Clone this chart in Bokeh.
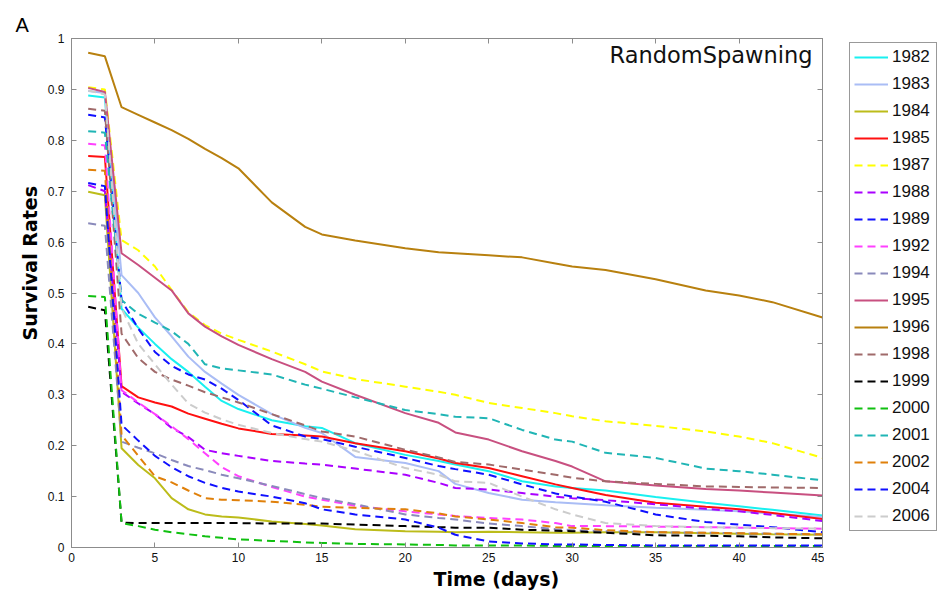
from bokeh.plotting import figure
from bokeh.models import (Range1d, FixedTicker, PrintfTickFormatter, LinearAxis,
                          Legend, LegendItem, Label, Title, CustomLabelingPolicy)
from bokeh.layouts import row
from bokeh.embed import file_html
from bokeh.resources import INLINE

# ---------------- data ----------------
days = [1, 2, 3, 4, 5, 6, 7, 8, 9, 10, 12, 14, 15, 17, 20, 22, 23, 25, 27, 29, 30, 32, 35, 38, 40, 42, 45]

y1982 = [.888, .884, .469, .432, .400, .370, .345, .316, .288, .272, .250, .238, .235, .205, .182, .170, .163, .150, .130, .120, .117, .112, .099, .088, .081, .074, .063]
y1983 = [.897, .893, .535, .500, .452, .415, .375, .345, .322, .300, .262, .235, .225, .178, .166, .150, .125, .107, .094, .089, .087, .083, .078, .074, .071, .067, .060]
y1984 = [.699, .692, .195, .162, .136, .097, .075, .065, .061, .059, .051, .046, .043, .036, .032, .031, .030, .031, .030, .029, .029, .030, .030, .028, .027, .026, .025]
y1985 = [.769, .767, .317, .295, .285, .277, .263, .253, .243, .234, .223, .220, .218, .205, .189, .175, .166, .156, .140, .124, .117, .103, .088, .080, .075, .068, .056]
y1987 = [.904, .900, .604, .584, .552, .506, .462, .437, .420, .408, .385, .360, .346, .331, .316, .306, .300, .284, .274, .264, .258, .248, .239, .228, .218, .205, .176]
y1988 = [.712, .700, .306, .283, .262, .235, .217, .192, .185, .180, .170, .165, .163, .155, .143, .127, .117, .114, .107, .100, .097, .093, .085, .076, .071, .064, .052]
y1989 = [.850, .845, .486, .430, .384, .357, .340, .330, .312, .290, .240, .218, .213, .198, .176, .160, .154, .143, .124, .106, .100, .090, .065, .050, .045, .040, .030]
y1992 = [.793, .790, .309, .285, .262, .238, .213, .185, .158, .140, .119, .100, .094, .082, .071, .065, .062, .058, .055, .048, .042, .042, .041, .040, .039, .038, .037]
y1994 = [.637, .632, .208, .196, .185, .172, .160, .152, .143, .136, .121, .105, .097, .085, .065, .058, .055, .047, .042, .036, .034, .032, .030, .029, .028, .027, .026]
y1995 = [.903, .895, .578, .555, .530, .505, .460, .434, .415, .398, .370, .345, .326, .300, .264, .245, .226, .212, .189, .170, .159, .130, .122, .115, .112, .108, .102]
y1996 = [.972, .965, .865, .850, .835, .820, .803, .783, .765, .745, .678, .630, .615, .603, .588, .580, .578, .574, .570, .558, .552, .545, .527, .505, .495, .482, .452]
y1998 = [.862, .858, .420, .372, .345, .330, .318, .305, .295, .285, .262, .240, .228, .218, .192, .177, .168, .163, .153, .143, .137, .130, .125, .120, .119, .118, .117]
y1999 = [.473, .466, .049, .048, .048, .048, .048, .048, .048, .048, .047, .047, .047, .045, .042, .040, .039, .039, .035, .033, .032, .029, .024, .023, .022, .020, .018]
y2000 = [.494, .492, .048, .042, .035, .030, .026, .022, .019, .016, .013, .010, .009, .007, .006, .005, .004, .004, .004, .003, .003, .003, .003, .003, .003, .003, .003]
y2001 = [.818, .815, .486, .459, .442, .425, .400, .360, .352, .348, .340, .320, .312, .295, .270, .262, .257, .254, .231, .212, .208, .186, .176, .155, .150, .143, .132]
y2002 = [.742, .740, .221, .180, .140, .128, .112, .097, .094, .093, .090, .084, .080, .078, .075, .067, .061, .055, .048, .040, .039, .034, .030, .029, .028, .027, .026]
y2004 = [.716, .710, .241, .210, .180, .158, .140, .127, .117, .110, .100, .087, .075, .065, .055, .039, .025, .012, .008, .006, .006, .005, .004, .004, .004, .004, .004]
y2006 = [.898, .890, .470, .400, .360, .320, .283, .265, .252, .241, .225, .213, .208, .190, .156, .143, .130, .127, .100, .075, .065, .048, .042, .040, .039, .038, .037]

years = ["1982", "1983", "1984", "1985", "1987", "1988", "1989", "1992", "1994",
         "1995", "1996", "1998", "1999", "2000", "2001", "2002", "2004", "2006"]
series = [y1982, y1983, y1984, y1985, y1987, y1988, y1989, y1992, y1994,
          y1995, y1996, y1998, y1999, y2000, y2001, y2002, y2004, y2006]

x_ticks = [0, 5, 10, 15, 20, 25, 30, 35, 40, 45]
y_ticks = [0, 0.1, 0.2, 0.3, 0.4, 0.5, 0.6, 0.7, 0.8, 0.9, 1]

panel_letter = "A"
scenario = "RandomSpawning"
x_title = "Time (days)"
y_title = "Survival Rates"

# ---------------- styles ----------------
colors = ["#19f0f0", "#aabdf5", "#bcbc1a", "#ff1010", "#ffff00", "#aa00ff",
          "#1010ff", "#ff40ff", "#8a8abb", "#c85080", "#b8800f", "#a06a6a",
          "#000000", "#10c010", "#20b5b5", "#e0800a", "#1010ff", "#cccccc"]
solid = {"1982", "1983", "1984", "1985", "1995", "1996"}

AX = "#8c8c8c"

p = figure(width=824, height=595, x_range=Range1d(0, 45), y_range=Range1d(0, 1),
           output_backend="svg", toolbar_location=None,
           min_border_left=71, min_border_right=2,
           min_border_top=38, min_border_bottom=48)
p.background_fill_color = "white"
p.border_fill_color = "white"
p.outline_line_color = AX
p.grid.visible = False

def style_axis(ax, ticks, labels=True):
    ax.ticker = FixedTicker(ticks=ticks)
    ax.major_tick_in = 5
    ax.major_tick_out = 0
    ax.minor_tick_line_color = None
    ax.axis_line_color = AX
    ax.major_tick_line_color = AX
    if labels:
        ax.major_label_text_font = "Liberation Sans"
        ax.major_label_text_font_size = "12px"
        ax.major_label_text_color = "#111111"
    else:
        # tick marks only (box-style axes): hide every label
        ax.major_label_text_font_size = "0px"
        ax.major_label_standoff = 0
        ax.major_label_policy = CustomLabelingPolicy(
            code="for (const i of indices) { indices.unset(i) }")

style_axis(p.xaxis[0], x_ticks)
style_axis(p.yaxis[0], y_ticks)
p.yaxis[0].formatter = PrintfTickFormatter(format="%g")
p.xaxis[0].major_label_standoff = 5
p.yaxis[0].major_label_standoff = 7

right_ax = LinearAxis()
style_axis(right_ax, y_ticks, labels=False)
p.add_layout(right_ax, "right")
top_ax = LinearAxis()
style_axis(top_ax, x_ticks, labels=False)
p.add_layout(top_ax, "above")

def text_title(txt, size, bold, offset, standoff, font):
    return Title(text=txt, align="left", offset=offset, standoff=standoff,
                 text_font=font, text_font_size=size,
                 text_font_style="bold" if bold else "normal",
                 text_color="#000000")

p.add_layout(text_title(x_title, "19px", True, 362, 2, "DejaVu Sans"), "below")
p.add_layout(text_title(y_title, "19px", True, 207, 8, "DejaVu Sans"), "left")
p.add_layout(text_title(panel_letter, "20px", False, -56, 6, "Liberation Sans"), "above")

def draw(fig, yr, vals, col):
    if yr in solid:
        return fig.line(days, vals, line_color=col, line_width=2)
    return fig.line(days, vals, line_color=col, line_width=2, line_dash="8 5")

for yr, vals, col in zip(years, series, colors):
    draw(p, yr, vals, col)

p.add_layout(Label(x=44.4, y=0.967, text=scenario, text_align="right",
                   text_baseline="middle", text_font="DejaVu Sans",
                   text_font_size="22.5px", text_color="#111111"))

# ---------------- legend panel (its own view shows no data; it only hosts the key) ----------------
q = figure(width=115, height=595, x_range=Range1d(-2, -1), y_range=Range1d(0, 1),
           output_backend="svg", toolbar_location=None,
           min_border_left=21, min_border_right=0,
           min_border_top=38, min_border_bottom=0)
q.axis.visible = False
q.grid.visible = False
q.outline_line_color = None
q.background_fill_color = "white"
q.border_fill_color = "white"

items = []
for yr, vals, col in zip(years, series, colors):
    r = draw(q, yr, vals, col)
    items.append(LegendItem(label=yr, renderers=[r]))

legend = Legend(items=items, location="top_left")
legend.glyph_width = 34
legend.glyph_height = 20
legend.label_height = 20
legend.spacing = 7
legend.padding = 4
legend.margin = 4
legend.label_standoff = 4
legend.label_width = 40
legend.label_text_font = "Liberation Sans"
legend.label_text_font_size = "17px"
legend.label_text_color = "#111111"
legend.border_line_color = "#333333"
legend.border_line_width = 1
legend.background_fill_color = "white"
legend.background_fill_alpha = 1
q.add_layout(legend, "center")

layout = row(p, q)
open("out.html", "w").write(file_html(layout, INLINE))
